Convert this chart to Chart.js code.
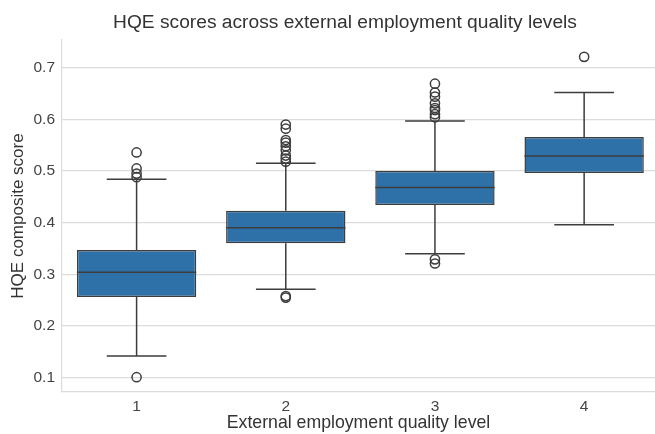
<!DOCTYPE html>
<html>
<head>
<meta charset="utf-8">
<script src="https://cdn.jsdelivr.net/npm/chart.js@4.4.0/dist/chart.umd.min.js"></script>
<style>
  html, body { margin: 0; padding: 0; background: #ffffff; }
  #wrap { width: 655px; height: 434px; position: relative; }
</style>
</head>
<body>
<div id="wrap"><canvas id="chart" width="655" height="434"></canvas></div>
<script>
// Employment quality levels and HQE composite score summaries
const categories = ['1', '2', '3', '4'];
const q1 = [0.256, 0.360, 0.434, 0.496];
const medians = [0.304, 0.390, 0.468, 0.529];
const q3 = [0.347, 0.423, 0.500, 0.566];
const whiskerLow = [0.142, 0.271, 0.340, 0.396];
const whiskerHigh = [0.484, 0.515, 0.597, 0.652];
const outliers1 = [0.101, 0.488, 0.495, 0.505, 0.536];
const outliers2 = [0.255, 0.258, 0.518, 0.524, 0.530, 0.540, 0.548, 0.555, 0.560, 0.582, 0.590];
const outliers3 = [0.321, 0.329, 0.604, 0.610, 0.618, 0.622, 0.631, 0.644, 0.652, 0.669];
const outliers4 = [0.721];
const yTicks = [0.1, 0.2, 0.3, 0.4, 0.5, 0.6, 0.7];

const titleText = 'HQE scores across external employment quality levels';
const xLabel = 'External employment quality level';
const yLabel = 'HQE composite score';

const boxFill = '#2d71a8';
const lineColor = '#3d3d3d';
const gridColor = '#dcdcdc';
const textColor = '#333333';
const tickColor = '#444444';
const fontFamily = '"Liberation Sans", Arial, sans-serif';

const outlierGroups = [outliers1, outliers2, outliers3, outliers4];
const outlierPoints = [];
outlierGroups.forEach((vals, i) => vals.forEach(v => outlierPoints.push({ x: i, y: v })));

const boxData = categories.map((c, i) => ({ x: i, y: [q1[i], q3[i]] }));

// Whiskers, caps and median lines drawn through the chart's scales
const boxLines = {
  id: 'boxLines',
  afterDatasetsDraw(chart) {
    const { ctx, scales: { x, y } } = chart;
    const half = (x.getPixelForValue(0.4) - x.getPixelForValue(0)); // half box width
    const capHalf = half / 2;
    ctx.save();
    ctx.strokeStyle = lineColor;
    ctx.lineWidth = 1.5;
    ctx.lineCap = 'butt';
    categories.forEach((c, i) => {
      const cx = x.getPixelForValue(i);
      const yLo = y.getPixelForValue(whiskerLow[i]);
      const yHi = y.getPixelForValue(whiskerHigh[i]);
      const yQ1 = y.getPixelForValue(q1[i]);
      const yQ3 = y.getPixelForValue(q3[i]);
      const yMed = y.getPixelForValue(medians[i]);
      ctx.beginPath();
      ctx.moveTo(cx, yQ1); ctx.lineTo(cx, yLo);
      ctx.moveTo(cx, yQ3); ctx.lineTo(cx, yHi);
      ctx.moveTo(cx - capHalf, yLo); ctx.lineTo(cx + capHalf, yLo);
      ctx.moveTo(cx - capHalf, yHi); ctx.lineTo(cx + capHalf, yHi);
      ctx.moveTo(cx - half, yMed); ctx.lineTo(cx + half, yMed);
      ctx.stroke();
    });
    ctx.restore();
  }
};

// Chart title, centred above the axes
const titlePlugin = {
  id: 'titleText',
  afterDraw(chart) {
    const { ctx } = chart;
    ctx.save();
    ctx.fillStyle = textColor;
    ctx.font = '19.2px ' + fontFamily;
    ctx.textAlign = 'center';
    ctx.textBaseline = 'alphabetic';
    ctx.fillText(titleText, 345, 28);
    ctx.restore();
  }
};

new Chart(document.getElementById('chart'), {
  type: 'bar',
  data: {
    datasets: [
      {
        type: 'bar',
        data: boxData,
        backgroundColor: boxFill,
        borderColor: lineColor,
        borderWidth: 1.5,
        borderSkipped: false,
        categoryPercentage: 0.8,
        barPercentage: 1.0,
        order: 2
      },
      {
        type: 'scatter',
        data: outlierPoints,
        pointStyle: 'circle',
        pointRadius: 4.6,
        pointBackgroundColor: 'rgba(255,255,255,0)',
        pointBorderColor: lineColor,
        pointBorderWidth: 1.5,
        showLine: false,
        clip: false,
        order: 1
      }
    ]
  },
  options: {
    responsive: false,
    animation: false,
    events: [],
    layout: { autoPadding: false, padding: { top: 40, right: 0, bottom: 0, left: 0 } },
    plugins: {
      legend: { display: false },
      tooltip: { enabled: false },
      title: { display: false }
    },
    scales: {
      x: {
        type: 'linear',
        min: -0.5,
        max: 3.475,
        offset: false,
        afterFit(scale) {
          scale.height = 42;
          scale.paddingLeft = 0;
          scale.paddingRight = 0;
        },
        afterBuildTicks(scale) { scale.ticks = categories.map((c, i) => ({ value: i })); },
        grid: { display: false, drawTicks: false },
        border: { display: true, color: gridColor, width: 1.2 },
        ticks: {
          padding: 5,
          color: tickColor,
          font: { family: fontFamily, size: 15.5 },
          callback: (v) => categories[v]
        },
        title: {
          display: true,
          text: xLabel,
          color: textColor,
          font: { family: fontFamily, size: 17.7 },
          padding: { top: 0, bottom: 0 }
        }
      },
      y: {
        type: 'linear',
        min: 0.0723,
        max: 0.7536,
        afterFit(scale) { scale.width = 62; },
        afterBuildTicks(scale) { scale.ticks = yTicks.map(v => ({ value: v })); },
        grid: { display: true, color: gridColor, lineWidth: 1.2, drawTicks: false },
        border: { display: true, color: gridColor, width: 1.2 },
        ticks: {
          padding: 7,
          color: tickColor,
          font: { family: fontFamily, size: 15.5 },
          callback: (v) => v.toFixed(1)
        },
        title: {
          display: true,
          text: yLabel,
          color: textColor,
          font: { family: fontFamily, size: 17 },
          padding: { top: 8, bottom: 0 }
        }
      }
    }
  },
  plugins: [boxLines, titlePlugin]
});
</script>
</body>
</html>
